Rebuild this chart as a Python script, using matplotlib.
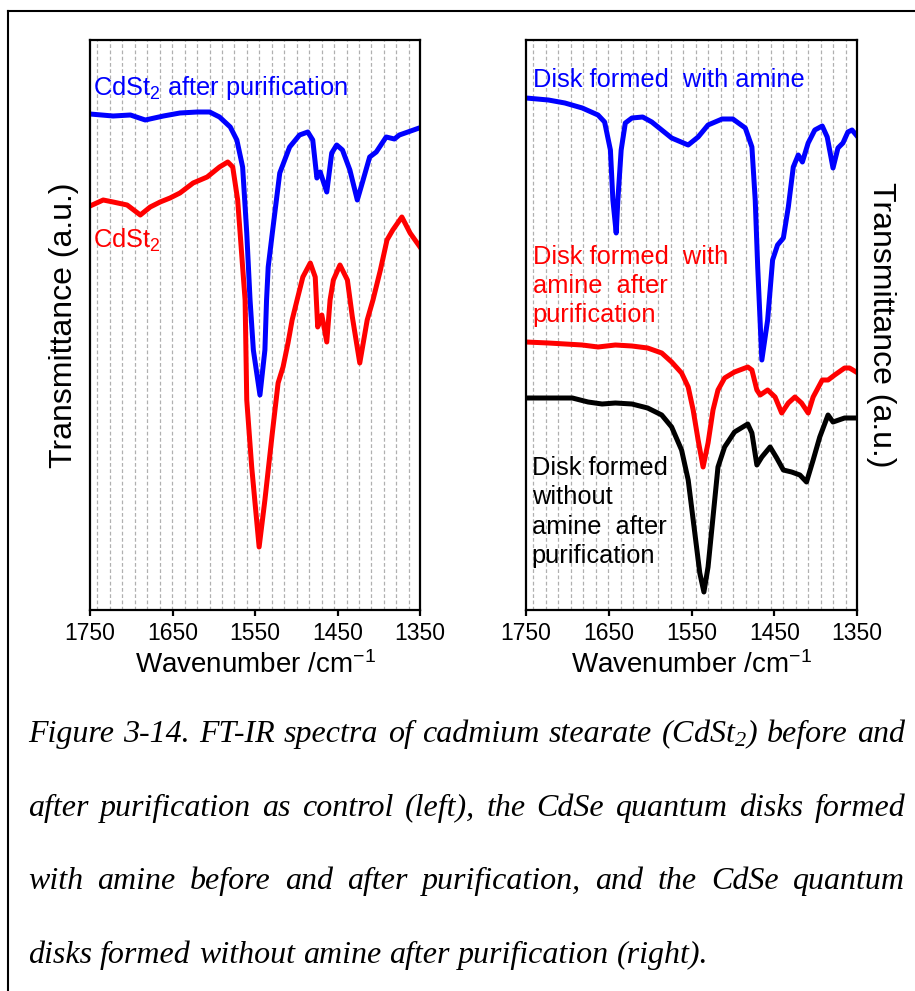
import matplotlib
matplotlib.use("Agg")

import matplotlib.pyplot as plt
from matplotlib import font_manager
from matplotlib.lines import Line2D
import numpy as np

# spectra (transmittance in arbitrary units)
wn_cdst_pur = [1750, 1722, 1701, 1683, 1661, 1641, 1620, 1605, 1593, 1580, 1572, 1565,
               1560, 1556, 1552, 1544, 1538, 1536, 1534, 1529, 1523, 1520, 1508, 1496,
               1486, 1480, 1475, 1471, 1463, 1457, 1451, 1444, 1435, 1426, 1420, 1411,
               1403, 1391, 1381, 1375, 1351]
t_cdst_pur = [49.6, 49.4, 49.5, 49.0, 49.4, 49.7, 49.8, 49.8, 49.3, 48.3, 47.0, 44.3,
              37.7, 31.0, 26.0, 21.5, 26.0, 31.0, 34.3, 37.7, 41.7, 43.7, 46.3, 47.5,
              47.8, 47.0, 43.2, 43.8, 41.8, 45.7, 46.5, 46.0, 44.0, 41.0, 42.7, 45.3,
              45.8, 47.3, 47.1, 47.5, 48.2]

wn_cdst = [1750, 1734, 1722, 1705, 1689, 1677, 1665, 1653, 1641, 1625, 1608, 1593,
           1583, 1577, 1571, 1565, 1562, 1560, 1554, 1545, 1538, 1529, 1522, 1516,
           1510, 1505, 1499, 1492, 1483, 1477, 1474, 1469, 1463, 1459, 1455, 1447,
           1438, 1432, 1423, 1414, 1407, 1398, 1390, 1383, 1372, 1362, 1350]
t_cdst = [40.4, 41.0, 40.8, 40.5, 39.5, 40.3, 40.8, 41.2, 41.7, 42.7, 43.3, 44.3,
          44.8, 44.3, 41.0, 34.3, 31.0, 21.0, 14.3, 6.3, 11.0, 17.7, 22.7, 24.3,
          26.7, 29.0, 31.0, 33.3, 34.7, 33.3, 28.3, 29.5, 26.8, 31.0, 33.0, 34.5,
          33.0, 29.3, 24.7, 29.0, 31.0, 34.0, 37.0, 38.0, 39.3, 37.7, 36.3]

wn_amine = [1750, 1723, 1703, 1682, 1663, 1655, 1648, 1645, 1641, 1639, 1635, 1630,
            1622, 1609, 1598, 1586, 1574, 1554, 1542, 1530, 1513, 1500, 1485, 1477,
            1473, 1470, 1465, 1458, 1452, 1446, 1439, 1433, 1427, 1421, 1416, 1409,
            1401, 1392, 1386, 1379, 1373, 1367, 1361, 1356, 1351]
t_amine = [51.2, 51.0, 50.7, 50.2, 49.5, 48.8, 46.0, 41.0, 37.7, 41.0, 46.0, 48.7,
           49.2, 49.3, 48.8, 48.0, 47.2, 46.5, 47.3, 48.5, 49.1, 49.1, 48.2, 46.3,
           41.0, 34.3, 25.0, 29.0, 35.0, 36.5, 37.2, 40.3, 44.3, 45.5, 44.8, 46.7,
           48.0, 48.4, 47.3, 44.2, 46.2, 46.7, 47.8, 48.0, 47.5]

wn_amine_pur = [1750, 1723, 1682, 1663, 1642, 1622, 1603, 1586, 1574, 1562, 1554, 1548,
                1542, 1536, 1530, 1524, 1518, 1510, 1498, 1482, 1477, 1471, 1467, 1458,
                1449, 1441, 1433, 1425, 1417, 1409, 1403, 1392, 1385, 1377, 1365, 1359,
                1351]
t_amine_pur = [26.8, 26.7, 26.5, 26.3, 26.5, 26.4, 26.2, 25.7, 24.8, 23.7, 22.3, 20.0,
               17.0, 14.3, 16.7, 20.0, 22.0, 23.2, 23.8, 24.3, 24.0, 22.0, 21.5, 22.0,
               21.3, 19.7, 20.7, 21.3, 20.7, 19.7, 21.3, 23.0, 23.0, 23.5, 24.2, 24.2,
               23.8]

wn_noamine = [1750, 1723, 1694, 1675, 1658, 1642, 1622, 1603, 1586, 1574, 1562, 1554,
              1546, 1540, 1535, 1530, 1524, 1518, 1510, 1498, 1482, 1477, 1471, 1465,
              1455, 1447, 1439, 1429, 1419, 1411, 1403, 1395, 1385, 1379, 1365, 1351]
t_noamine = [21.2, 21.2, 21.2, 20.8, 20.6, 20.7, 20.6, 20.2, 19.5, 18.3, 16.0, 13.0,
             7.7, 3.7, 1.8, 4.3, 9.3, 14.3, 16.3, 17.8, 18.6, 17.7, 14.5, 15.3,
             16.3, 15.2, 14.0, 13.8, 13.5, 12.8, 15.0, 17.3, 19.5, 18.8, 19.2, 19.2]

xticks = [1750, 1650, 1550, 1450, 1350]

caption_lines = [
    "Figure 3-14. FT-IR spectra of cadmium stearate (CdSt$_2$) before and",
    "after purification as control (left), the CdSe quantum disks formed",
    "with amine before and after purification, and the CdSe quantum",
    "disks formed without amine after purification (right).",
]

W, H = 915, 991
names = {f.name for f in font_manager.fontManager.ttflist}
if "Liberation Sans Narrow" in names:
    narrow, tick_fs, xl_fs = "Liberation Sans Narrow", 18, 23
else:
    narrow, tick_fs, xl_fs = "Liberation Sans", 16.5, 20

plt.rcParams["font.family"] = ["Liberation Sans", "DejaVu Sans"]
plt.rcParams["mathtext.default"] = "regular"

fig = plt.figure(figsize=(W / 100, H / 100), dpi=100)


def fx(px):
    return px / W


def fy(py):
    return 1 - py / H


def make_axes(x0, x1):
    ax = fig.add_axes([fx(x0), fy(610), fx(x1) - fx(x0), fy(40) - fy(610)])
    ax.set_xlim(1750, 1350)
    ax.set_ylim(0, 57)
    ax.set_yticks([])
    ax.set_xticks(xticks)
    ax.set_xticklabels([str(t) for t in xticks], family=narrow, fontsize=tick_fs)
    ax.tick_params(axis="x", direction="out", length=4, width=1.6, pad=5)
    for s in ax.spines.values():
        s.set_linewidth(1.6)
    # light dashed vertical grid
    for g in np.arange(1750 - 9, 1350, -15.1):
        ax.axvline(g, color="#b0b0b0", lw=0.9, ls=(0, (3, 2)), zorder=0)
    ax.set_xlabel("Wavenumber /cm$^{-1}$", family=narrow, fontsize=xl_fs, labelpad=4)
    return ax


lw = 3.6
txt_fs = 18.3
ax1 = make_axes(90, 420)
ax1.plot(wn_cdst_pur, t_cdst_pur, color="#0000ff", lw=lw, solid_joinstyle="round")
ax1.plot(wn_cdst, t_cdst, color="#ff0000", lw=lw, solid_joinstyle="round")
ax1.text(1746, 52.2, "CdSt$_2$ after purification", color="#0000ff", fontsize=txt_fs,
         va="center", ha="left")
ax1.text(1746, 37.0, "CdSt$_2$", color="#ff0000", fontsize=txt_fs, va="center", ha="left")
ax1.set_ylabel("Transmittance (a.u.)", fontsize=23, labelpad=8)

ax2 = make_axes(526, 857)
ax2.plot(wn_amine, t_amine, color="#0000ff", lw=lw, solid_joinstyle="round")
ax2.plot(wn_amine_pur, t_amine_pur, color="#ff0000", lw=lw, solid_joinstyle="round")
ax2.plot(wn_noamine, t_noamine, color="#000000", lw=lw, solid_joinstyle="round")
ax2.text(1742, 53.0, "Disk formed  with amine", color="#0000ff", fontsize=txt_fs,
         va="center", ha="left")
ax2.text(1742, 32.4, "Disk formed  with\namine  after\npurification", color="#ff0000",
         fontsize=txt_fs, va="center", ha="left", linespacing=1.27)
ax2.text(1743, 9.8, "Disk formed\nwithout\namine  after\npurification", color="#000000",
         fontsize=txt_fs, va="center", ha="left", linespacing=1.27)
ax2.yaxis.set_label_position("right")
ax2.set_ylabel("Transmittance (a.u.)", fontsize=23, rotation=-90, labelpad=28)

# outer frame (left and top edges)
fig.add_artist(Line2D([fx(8), fx(8)], [fy(11), 0], transform=fig.transFigure,
                      color="black", lw=1.5))
fig.add_artist(Line2D([fx(8), 1], [fy(11), fy(11)], transform=fig.transFigure,
                      color="black", lw=1.5))

# justified italic caption
cap_font = dict(family=["Liberation Serif", "DejaVu Serif"], style="italic", fontsize=23)
renderer = fig.canvas.get_renderer()
left, right = 28, 905
space_w = fig.text(0, 0, "a a", **cap_font).get_window_extent(renderer).width
space_w -= 2 * fig.text(0, 0, "a", alpha=0, **cap_font).get_window_extent(renderer).width
for t in fig.texts[-2:]:
    t.remove()
for i, line in enumerate(caption_lines):
    base = 742 + i * 73.7
    words = line.split(" ")
    texts = [fig.text(0, fy(base), w, va="baseline", ha="left", **cap_font) for w in words]
    widths = [t.get_window_extent(renderer).width for t in texts]
    if i < len(caption_lines) - 1:
        gap = (right - left - sum(widths)) / (len(words) - 1)
    else:
        gap = space_w
    x = left
    for t, wd in zip(texts, widths):
        t.set_x(fx(x))
        x += wd + gap

fig.savefig("out.png", dpi=100)
